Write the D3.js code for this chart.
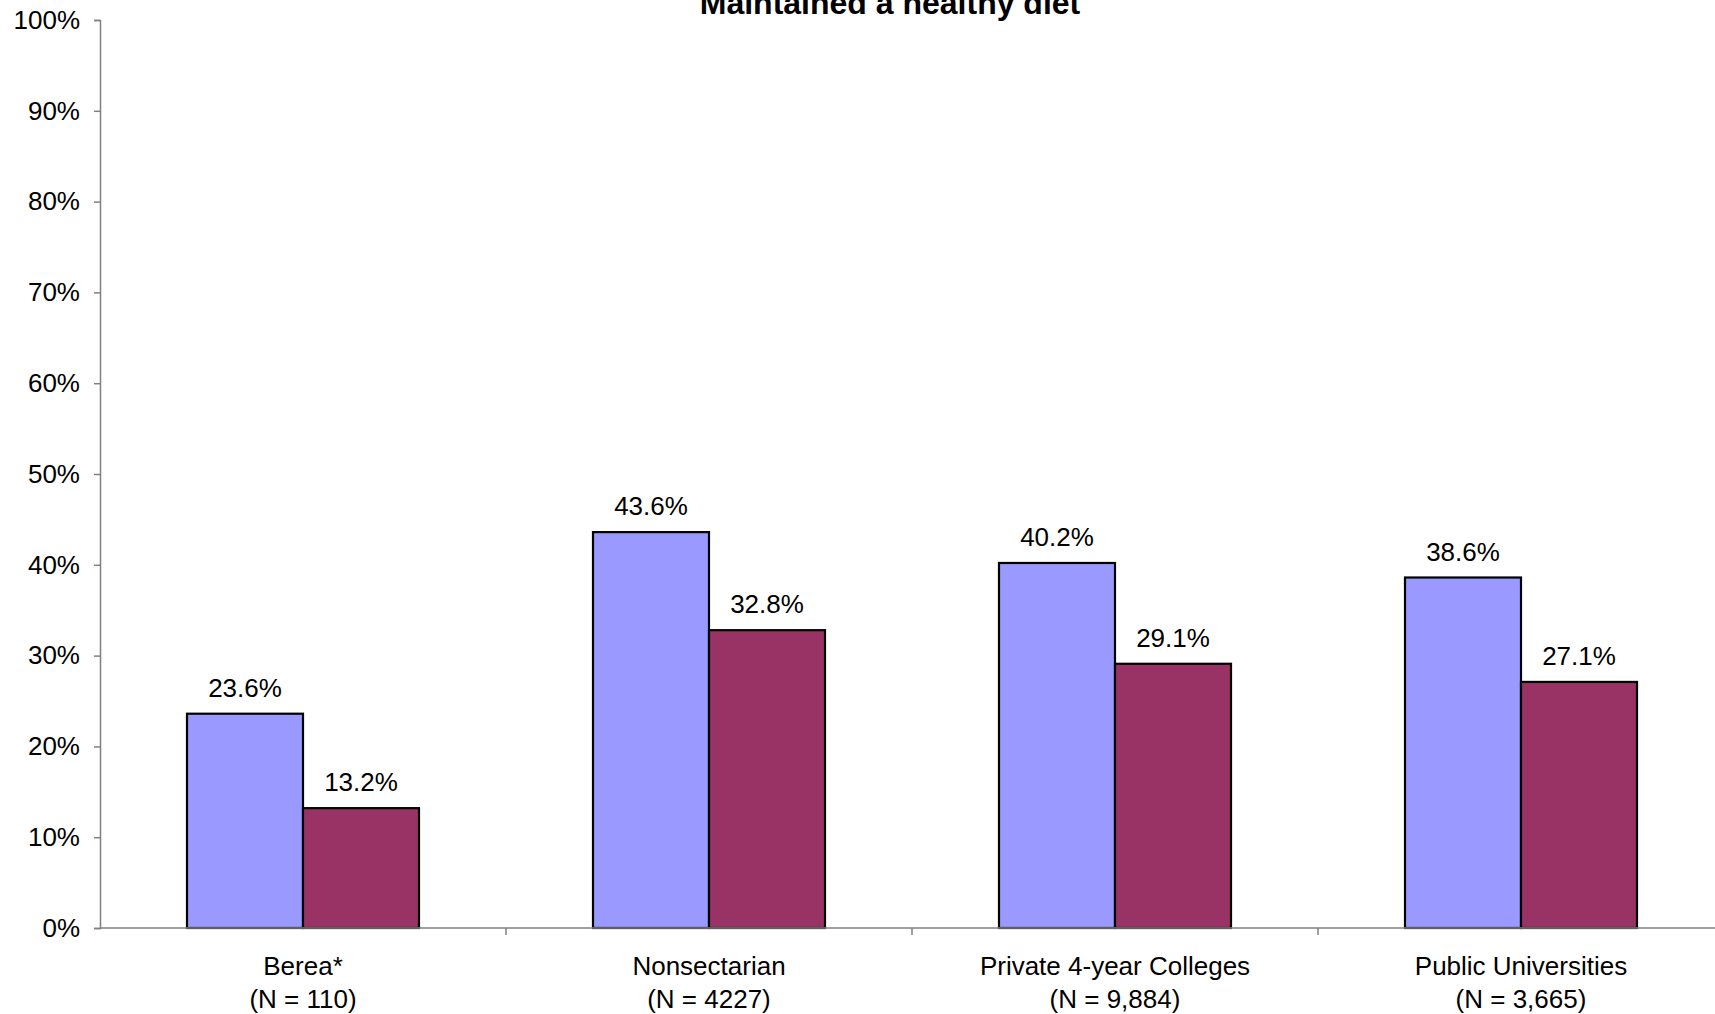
<!DOCTYPE html>
<html>
<head>
<meta charset="utf-8">
<script src="https://cdn.jsdelivr.net/npm/d3@7"></script>
<style>
  html, body { margin: 0; padding: 0; background: #fff; overflow: hidden; }
  text { font-family: "Liberation Sans", Arial, sans-serif; fill: #000; }
</style>
</head>
<body>
<svg id="chart" width="1715" height="1014"></svg>
<script>
const title = "Maintained a healthy diet";
const categories = ["Berea*", "Nonsectarian", "Private 4-year Colleges", "Public Universities"];
const nLabels = ["(N = 110)", "(N = 4227)", "(N = 9,884)", "(N = 3,665)"];
const seriesNames = ["Series 1", "Series 2"];
const series1 = [23.6, 43.6, 40.2, 38.6];
const series2 = [13.2, 32.8, 29.1, 27.1];
const yTicks = [0, 10, 20, 30, 40, 50, 60, 70, 80, 90, 100];
const colors = ["#9999FF", "#993366"];

const svg = d3.select("#chart");
const mLeft = 100, mRight = 1724, mTop = 20, mBottom = 928;

const x = d3.scaleBand().domain(categories).range([mLeft, mRight]).padding(0);
const inner = d3.scaleBand().domain(seriesNames)
  .range([0, x.bandwidth()]).paddingInner(0).paddingOuter(0.75);
const y = d3.scaleLinear().domain([0, 100]).range([mBottom, mTop]);

const data = categories.map((c, i) => ({
  cat: c, n: nLabels[i],
  vals: [ {s: seriesNames[0], v: series1[i], c: colors[0]},
          {s: seriesNames[1], v: series2[i], c: colors[1]} ]
}));

// Title
svg.append("text").attr("x", 890).attr("y", 14).attr("text-anchor", "middle")
  .style("font-size", "32px").style("font-weight", "bold").text(title);

// Bars
const g = svg.append("g").selectAll("g").data(data).join("g")
  .attr("transform", d => `translate(${x(d.cat)},0)`);
g.selectAll("rect").data(d => d.vals).join("rect")
  .attr("x", d => inner(d.s))
  .attr("width", inner.bandwidth())
  .attr("y", d => y(d.v))
  .attr("height", d => y(0) - y(d.v))
  .attr("fill", d => d.c)
  .attr("stroke", "#000").attr("stroke-width", 2.2);
g.selectAll("text.val").data(d => d.vals).join("text")
  .attr("class", "val")
  .attr("x", d => inner(d.s) + inner.bandwidth() / 2)
  .attr("y", d => y(d.v) - 17)
  .attr("text-anchor", "middle")
  .style("font-size", "26px")
  .text(d => d.v.toFixed(1) + "%");

// Y axis
const yAxis = d3.axisLeft(y).tickValues(yTicks).tickFormat(d => d + "%")
  .tickSize(6).tickPadding(14);
const ya = svg.append("g").attr("transform", `translate(${mLeft},0)`).call(yAxis);
ya.select(".domain").attr("stroke", "#808080").attr("stroke-width", 1.5);
ya.selectAll(".tick line").attr("stroke", "#808080").attr("stroke-width", 1.5);
ya.selectAll(".tick text").style("font-size", "26px")
  .style("font-family", '"Liberation Sans", Arial, sans-serif').attr("fill", "#000");

// X axis
const xa = svg.append("g").attr("transform", `translate(0,${mBottom})`);
xa.append("line").attr("x1", mLeft).attr("x2", mRight).attr("y1", 0).attr("y2", 0)
  .attr("stroke", "#808080").attr("stroke-width", 1.5);
xa.selectAll("line.tk").data(categories.slice(1)).join("line")
  .attr("class", "tk")
  .attr("x1", d => x(d)).attr("x2", d => x(d))
  .attr("y1", 0).attr("y2", 7)
  .attr("stroke", "#808080").attr("stroke-width", 1.5);
const lab = xa.selectAll("text").data(data).join("text")
  .attr("text-anchor", "middle")
  .style("font-size", "26px");
lab.append("tspan").attr("x", d => x(d.cat) + x.bandwidth() / 2).attr("y", 47).text(d => d.cat);
lab.append("tspan").attr("x", d => x(d.cat) + x.bandwidth() / 2).attr("y", 80).text(d => d.n);
</script>
</body>
</html>
